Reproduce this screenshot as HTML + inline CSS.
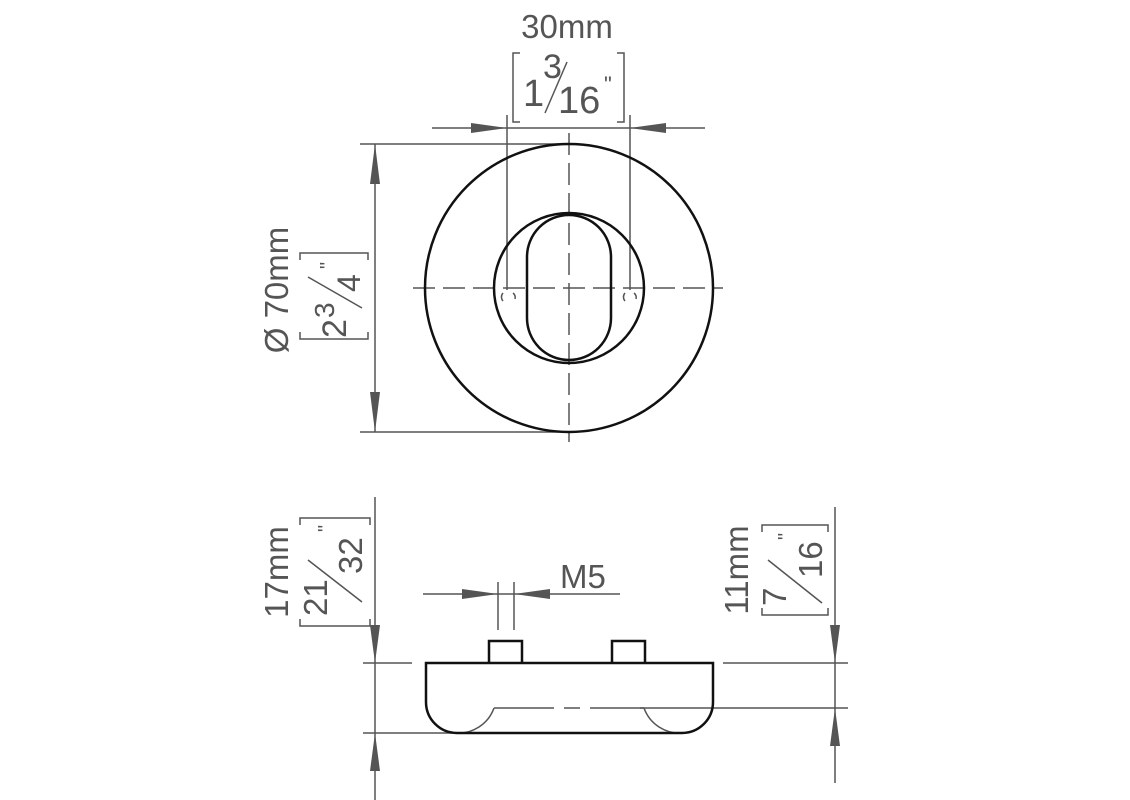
<!DOCTYPE html>
<html><head><meta charset="utf-8"><style>html,body{margin:0;padding:0;background:#fff}svg{display:block}</style></head>
<body>
<svg width="1130" height="800" viewBox="0 0 1130 800" xmlns="http://www.w3.org/2000/svg" font-family="Liberation Sans, sans-serif">
<g stroke="#555" stroke-width="1.5" fill="none">
<line x1="360" y1="144" x2="569" y2="144"/>
<line x1="360" y1="432" x2="569" y2="432"/>
<line x1="375" y1="144" x2="375" y2="432"/>
<path d="M375,144 l-5,40 h10 z M375,432 l-5,-40 h10 z" fill="#555" stroke="none"/>
<line x1="507" y1="115" x2="507" y2="290"/>
<line x1="630" y1="115" x2="630" y2="290"/>
<line x1="432" y1="128" x2="705" y2="128"/>
<path d="M507,128 l-36,-5 v10 z M630,128 l36,-5 v10 z" fill="#555" stroke="none"/>
<line x1="413" y1="288" x2="723" y2="288" stroke-dasharray="22,8"/>
<line x1="569" y1="133" x2="569" y2="442" stroke-dasharray="22,8"/>
<path d="M503,293 a6,6 0 0 0 0,8 M513,293 a6,6 0 0 1 2,6 M625,293 a6,6 0 0 0 0,8 M634,293 a6,6 0 0 1 2,6"/>
<line x1="375" y1="497" x2="375" y2="800"/>
<line x1="363" y1="663" x2="412" y2="663"/>
<line x1="363" y1="733" x2="460" y2="733"/>
<path d="M375,663 l-5,-38 h10 z M375,733 l-5,38 h10 z" fill="#555" stroke="none"/>
<line x1="835" y1="507" x2="835" y2="783"/>
<line x1="723" y1="663" x2="848" y2="663"/>
<line x1="640" y1="708" x2="848" y2="708"/>
<path d="M835,663 l-5,-38 h10 z M835,708 l-5,38 h10 z" fill="#555" stroke="none"/>
<line x1="498" y1="582" x2="498" y2="630"/>
<line x1="514" y1="582" x2="514" y2="630"/>
<line x1="423" y1="594" x2="620" y2="594"/>
<path d="M498,594 l-36,-5 v10 z M514,594 l36,-5 v10 z" fill="#555" stroke="none"/>
<path d="M455,733 A38,38 0 0 0 494,708"/>
<path d="M683,733 A38,38 0 0 1 644,708"/>
<line x1="494" y1="708" x2="644" y2="708" stroke-dasharray="60,10,16,10"/>
<path d="M520,53 h-7 v69 h7 M617,53 h7 v69 h-7"/>
<path d="M300,260 v-7 h68 v7 M300,332 v7 h68 v-7" />
<path d="M300,525 v-7 h70 v7 M300,619 v7 h70 v-7" />
<path d="M762,532 v-7 h66 v7 M762,608 v7 h66 v-7" />
</g>
<g stroke="#111" stroke-width="2.5" fill="none">
<circle cx="569" cy="288" r="144"/>
<circle cx="569" cy="288" r="75"/>
<path d="M527,257 A42,42 0 0 1 611,257 V318 A42,42 0 0 1 527,318 Z"/>
<path d="M426,663 H713 V702 A31,31 0 0 1 682,733 H457 A31,31 0 0 1 426,702 Z"/>
<path d="M489,663 V641 H522 V663 M612,663 V641 H645 V663"/>
</g>
<g fill="#555" stroke="none">
<text x="567" y="38" font-size="33" text-anchor="middle">30mm</text>
<text x="523" y="106" font-size="38">1</text>
<text x="543" y="78" font-size="34">3</text>
<line x1="545" y1="113" x2="567" y2="62" stroke="#555" stroke-width="1.5"/>
<text x="558" y="113" font-size="38">16</text>
<text x="604" y="92" font-size="22">"</text>
<text x="560" y="588" font-size="33">M5</text>
<g transform="translate(288,290) rotate(-90)"><text x="0" y="0" font-size="33" text-anchor="middle">Ø 70mm</text></g>
<g transform="translate(360,296) rotate(-90)">
<text x="-42" y="-14" font-size="34">2</text>
<text x="-22" y="-26" font-size="28">3</text>
<line x1="-12" y1="2" x2="19" y2="-52" stroke="#555" stroke-width="1.5"/>
<text x="4" y="0" font-size="32">4</text>
<text x="27" y="-26" font-size="20">"</text></g>
<g transform="translate(288,572) rotate(-90)"><text x="0" y="0" font-size="33" text-anchor="middle">17mm</text></g>
<g transform="translate(360,572) rotate(-90)">
<text x="-44" y="-33" font-size="33">21</text>
<line x1="-30" y1="2" x2="12" y2="-52" stroke="#555" stroke-width="1.5"/>
<text x="-2" y="2" font-size="33">32</text>
<text x="40" y="-28" font-size="20">"</text></g>
<g transform="translate(748,570) rotate(-90)"><text x="0" y="0" font-size="33" text-anchor="middle">11mm</text></g>
<g transform="translate(822,570) rotate(-90)">
<text x="-36" y="-36" font-size="33">7</text>
<line x1="-33" y1="0" x2="10" y2="-54" stroke="#555" stroke-width="1.5"/>
<text x="-8" y="0" font-size="33">16</text>
<text x="30" y="-30" font-size="20">"</text></g>
</g>
</svg>
</body></html>
